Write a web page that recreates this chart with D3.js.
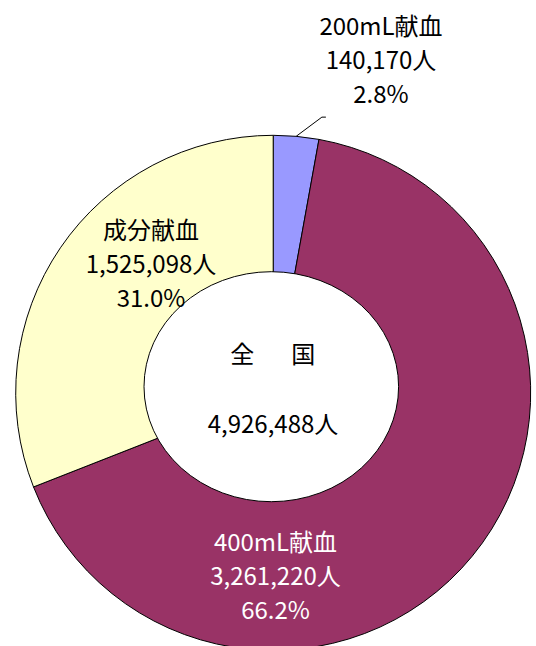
<!DOCTYPE html>
<html>
<head>
<meta charset="utf-8">
<script src="https://cdn.jsdelivr.net/npm/d3@7"></script>
<style>
  body { margin: 0; background: #fff; }
  text { font-family: "Noto Sans CJK JP", "Liberation Sans", sans-serif; font-size: 24px; }
</style>
</head>
<body>
<div id="chart"></div>
<script>
// data
var categories = ['200mL献血', '400mL献血', '成分献血'];
var donors = [140170, 3261220, 1525098];
var shares = ['2.8%', '66.2%', '31.0%'];
var totalLabel = '全　国';
var totalDonors = 4926488;

var colors = ['#9999FF', '#993366', '#FFFFCC'];
var textColors = ['#000', '#fff', '#000'];

// dimensions
var dimensions = {
  width: 536,
  height: 646,
  cx: 273.2,
  cy: 392.8,
  radius: 257.5
};

// label layout (center x, first baseline)
var labelPos = [
  { x: 381, y: 35 },
  { x: 275.5, y: 551 },
  { x: 151, y: 239 }
];
var lineGap = 34;

var svg = d3.select('#chart')
  .append('svg')
  .attr('width', dimensions.width)
  .attr('height', dimensions.height);

var container = svg.append('g')
  .attr('transform', 'translate(' + dimensions.cx + ',' + dimensions.cy + ')');

var pie = d3.pie()
  .sort(null)
  .value(d => d);

var arcs = pie(donors);

var arc = d3.arc()
  .innerRadius(0)
  .outerRadius(dimensions.radius);

container.selectAll('path')
  .data(arcs)
  .join('path')
  .attr('d', arc)
  .attr('fill', (d, i) => colors[i])
  .attr('stroke', '#000')
  .attr('stroke-width', 1);

// hole in the middle (an ellipse laid over the pie)
container.append('ellipse')
  .attr('cx', -1.9)
  .attr('cy', -6.1)
  .attr('rx', 127.3)
  .attr('ry', 115)
  .attr('fill', '#fff')
  .attr('stroke', '#000')
  .attr('stroke-width', 1);

// leader line for the small slice
var small = arcs[0];
var mid = (small.startAngle + small.endAngle) / 2;
var p0 = [Math.sin(mid) * dimensions.radius, -Math.cos(mid) * dimensions.radius];
var p1 = [p0[0] + 25.7, p0[1] - 19.2];
var p2 = [p1[0] + 4, p1[1]];
container.append('path')
  .attr('d', d3.line()([p0, p1, p2]))
  .attr('fill', 'none')
  .attr('stroke', '#000')
  .attr('stroke-width', 1);

// slice labels
var fmt = d3.format(',');
categories.forEach(function(name, i) {
  var lines = [name, fmt(donors[i]) + '人', shares[i]];
  svg.append('g')
    .selectAll('text')
    .data(lines)
    .join('text')
    .attr('x', labelPos[i].x)
    .attr('y', (d, j) => labelPos[i].y + j * lineGap)
    .attr('text-anchor', 'middle')
    .attr('fill', textColors[i])
    .text(d => d);
});

// center labels
svg.append('text')
  .attr('x', 276)
  .attr('y', 363)
  .attr('text-anchor', 'middle')
  .style('letter-spacing', '6.5px')
  .text(totalLabel);

svg.append('text')
  .attr('x', 273)
  .attr('y', 432.5)
  .attr('text-anchor', 'middle')
  .text(fmt(totalDonors) + '人');
</script>
</body>
</html>
